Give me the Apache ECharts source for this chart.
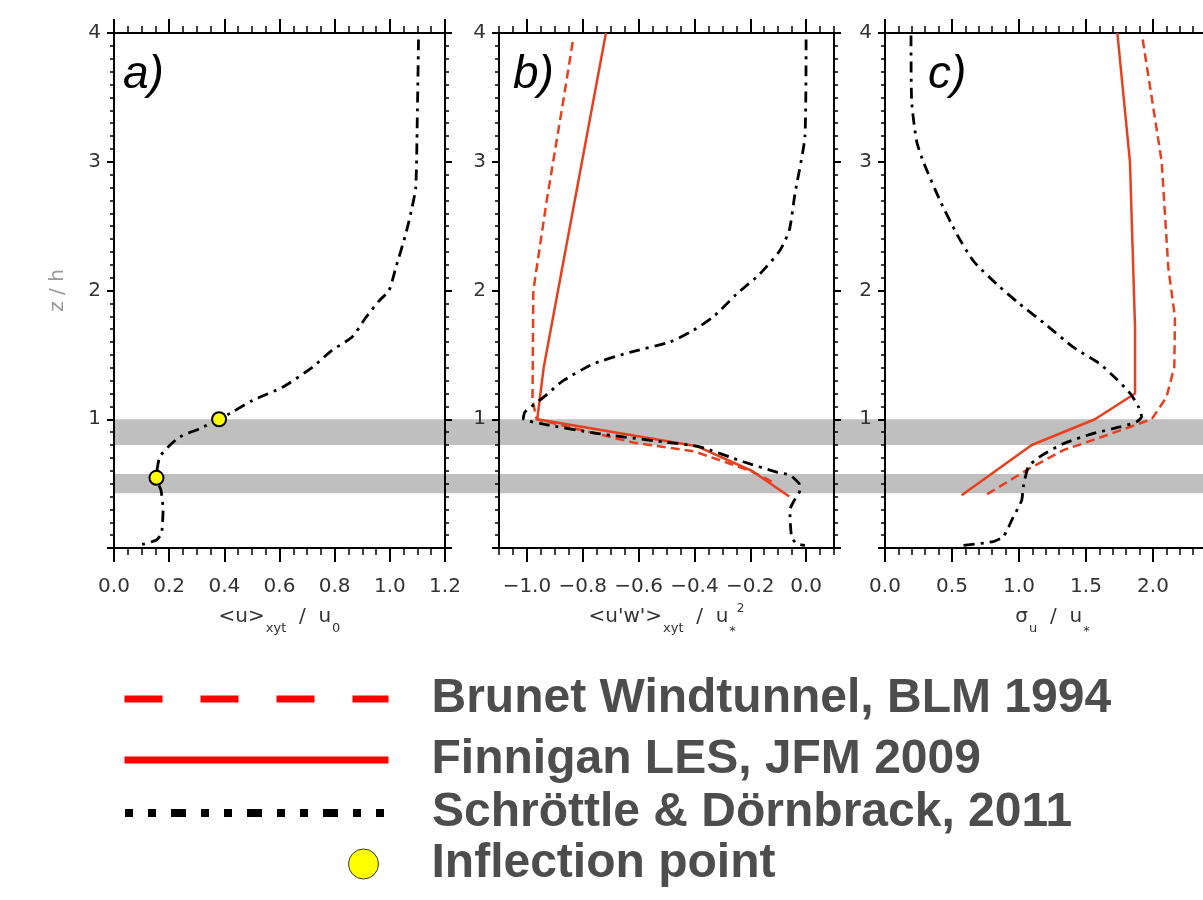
<!DOCTYPE html>
<html>
<head>
<meta charset="utf-8">
<script src="https://cdn.jsdelivr.net/npm/echarts@6.0.0/dist/echarts.min.js"></script>
<style>
  html, body { margin: 0; padding: 0; background: #fff; }
  #chart { width: 1203px; height: 900px; }
</style>
</head>
<body>
<div id="chart"></div>
<script>
  // profiles, points are [x, z/h]
  var aSchrottle = [[1.104, 3.95], [1.100, 3.40], [1.094, 2.80], [1.080, 2.64], [1.058, 2.44], [1.022, 2.18],
    [0.997, 2.00], [0.961, 1.92], [0.913, 1.79], [0.864, 1.64], [0.790, 1.535], [0.720, 1.405], [0.612, 1.25],
    [0.503, 1.147], [0.430, 1.057], [0.381, 1.00], [0.311, 0.928], [0.239, 0.863], [0.196, 0.785], [0.166, 0.708],
    [0.157, 0.62], [0.154, 0.545], [0.170, 0.45], [0.178, 0.30], [0.176, 0.20], [0.172, 0.114], [0.154, 0.062],
    [0.094, 0.023]];
  var aInflection = [[0.381, 1.0], [0.154, 0.545]];

  var bFinnigan = [[-0.717, 4.0], [-0.94, 1.40], [-0.963, 1.0], [-0.39, 0.79], [-0.195, 0.60], [-0.06, 0.40]];
  var bBrunet = [[-0.836, 3.93], [-0.87, 3.47], [-0.929, 2.70], [-0.977, 2.0], [-0.98, 1.15], [-0.965, 1.0],
    [-0.62, 0.82], [-0.40, 0.75], [-0.28, 0.66], [-0.19, 0.59], [-0.118, 0.51]];
  var bSchrottle = [[0.0, 3.95], [-0.004, 3.2], [-0.04, 2.75], [-0.06, 2.47], [-0.094, 2.31], [-0.165, 2.13],
    [-0.25, 1.97], [-0.33, 1.80], [-0.404, 1.69], [-0.488, 1.60], [-0.631, 1.52], [-0.762, 1.43], [-0.870, 1.30],
    [-0.941, 1.17], [-1.007, 1.057], [-1.013, 1.005], [-0.953, 0.967], [-0.75, 0.89], [-0.511, 0.824],
    [-0.38, 0.785], [-0.225, 0.67], [-0.105, 0.59], [-0.058, 0.566], [-0.025, 0.50], [-0.022, 0.45],
    [-0.045, 0.36], [-0.058, 0.295], [-0.052, 0.088], [-0.035, 0.035], [-0.004, 0.02]];

  var cFinnigan = [[1.734, 4.0], [1.828, 3.0], [1.866, 1.71], [1.866, 1.2], [1.567, 1.0], [1.095, 0.8], [0.572, 0.41]];
  var cBrunet = [[1.923, 3.95], [2.065, 3.0], [2.114, 2.18], [2.164, 1.79], [2.159, 1.405], [2.10, 1.17],
    [1.99, 1.0], [1.654, 0.876], [1.331, 0.76], [1.082, 0.62], [0.734, 0.40]];
  var cSchrottle = [[0.194, 3.98], [0.199, 3.47], [0.236, 3.16], [0.286, 3.0], [0.41, 2.70], [0.535, 2.44],
    [0.659, 2.23], [0.833, 2.05], [1.0, 1.90], [1.207, 1.73], [1.405, 1.56], [1.604, 1.43], [1.729, 1.31],
    [1.83, 1.20], [1.89, 1.10], [1.915, 1.02], [1.878, 0.98], [1.754, 0.94], [1.555, 0.89], [1.331, 0.81],
    [1.157, 0.71], [1.07, 0.63], [1.032, 0.475], [1.02, 0.37], [0.957, 0.24], [0.883, 0.088], [0.808, 0.05],
    [0.585, 0.02]];

  // grey canopy layers (z/h)
  var bandRanges = [[0.8, 1.0], [0.425, 0.575]];

  // tick labels of the middle panel
  var bTicks = [-1.0, -0.8, -0.6, -0.4, -0.2, 0.0];

  var names = ['Brunet Windtunnel, BLM 1994', 'Finnigan LES, JFM 2009', 'Schröttle & Dörnbrack, 2011', 'Inflection point'];
  var panelLabels = ['a)', 'b)', 'c)'];

  var red = '#e8401e';
  var labelFont = 'DejaVu Sans';

  var richName = {
    sub: { fontSize: 13, fontFamily: labelFont, color: '#333', padding: [24, 0, 0, 1] },
    sup: { fontSize: 12, fontFamily: labelFont, color: '#333', padding: [0, 0, 16, 1] },
    star: { fontSize: 13, fontFamily: labelFont, color: '#333', padding: [30, 0, 0, 1] }
  };

  function fmt1(v) {
    if (Math.abs(v) < 1e-9) return '0.0';
    return (v < 0 ? '\u2212' : '') + Math.abs(v).toFixed(1);
  }

  function xAx(grid, pos, min, max, interval, minor, labels, name) {
    return {
      type: 'value', gridIndex: grid, position: pos, min: min, max: max, interval: interval,
      axisLine: { onZero: false, lineStyle: { color: '#000', width: 2 } },
      axisTick: { length: 14, lineStyle: { color: '#000', width: 2 } },
      minorTick: { show: minor > 0, splitNumber: minor || 5, length: 7, lineStyle: { color: '#000', width: 1.5 } },
      splitLine: { show: false },
      axisLabel: { show: labels, margin: 29, fontSize: 20, color: '#333', fontFamily: labelFont, formatter: fmt1 },
      name: name || '', nameLocation: 'middle', nameGap: 58,
      nameTextStyle: { fontSize: 20, color: '#333', fontFamily: labelFont, lineHeight: 22, rich: richName }
    };
  }

  function yAx(grid, pos, labels, name) {
    return {
      type: 'value', gridIndex: grid, position: pos, min: 0, max: 4, interval: 1,
      axisLine: { onZero: false, lineStyle: { color: '#000', width: 2 } },
      axisTick: { length: 7, lineStyle: { color: '#000', width: 2 } },
      minorTick: { show: true, splitNumber: 10, length: 4, lineStyle: { color: '#000', width: 1.5 } },
      splitLine: { show: false },
      axisLabel: { show: labels, showMinLabel: false, margin: 13, fontSize: 20, color: '#333', fontFamily: labelFont },
      name: name || '', nameLocation: 'middle', nameGap: 46,
      nameTextStyle: { fontSize: 20, color: '#999', fontFamily: labelFont }
    };
  }

  // middle panel: majors at custom values, minors from an overlaid axis
  function bMajor(pos, labels, name) {
    var ax = xAx(1, pos, -1.1, 0.1, 0.05, 0, labels, name);
    ax.axisTick.customValues = bTicks;
    ax.axisLabel.customValues = bTicks;
    return ax;
  }
  function bMinor(pos) {
    var ax = xAx(1, pos, -1.1, 0.1, 0.05, 0, false);
    ax.axisLine = { show: false, onZero: false };
    ax.axisTick = { length: 7, lineStyle: { color: '#000', width: 1.5 } };
    return ax;
  }

  var xAxes = [
    xAx(0, 'bottom', 0, 1.2, 0.2, 4, true, '<u>{sub|xyt}  /  u{sub|0}'),
    xAx(0, 'top', 0, 1.2, 0.2, 4, false),
    bMajor('bottom', true, "<u'w'>{sub|xyt}  /  u{star|*}{sup|2}"),
    bMinor('bottom'),
    bMajor('top', false),
    bMinor('top'),
    xAx(2, 'bottom', 0, 2.5, 0.5, 5, true, 'σ{sub|u}  /  u{star|*}'),
    xAx(2, 'top', 0, 2.5, 0.5, 5, false),
    { type: 'value', gridIndex: 3, min: 0, max: 1, show: false }
  ];

  var yAxes = [
    yAx(0, 'left', true, 'z / h'), yAx(0, 'right', false),
    yAx(1, 'left', true), yAx(1, 'right', false),
    yAx(2, 'left', true), yAx(2, 'right', false),
    { type: 'value', gridIndex: 3, min: 0, max: 4, show: false }
  ];

  function lineSeries(name, data, xi, yi, kind) {
    var s = { name: name, type: 'line', data: data, xAxisIndex: xi, yAxisIndex: yi,
      symbol: 'none', silent: true, z: 3 };
    if (kind == 'dash') s.lineStyle = { color: red, width: 2.5, type: [9, 5] };
    else if (kind == 'solid') s.lineStyle = { color: red, width: 2.5 };
    else { s.lineStyle = { color: '#000', width: 2.8, type: [11, 6, 3, 6] }; s.smooth = 0.2; }
    s.itemStyle = { color: s.lineStyle.color };
    return s;
  }

  var series = [
    {
      type: 'line', xAxisIndex: 8, yAxisIndex: 6, data: [], silent: true,
      markArea: {
        silent: true, z: -1, itemStyle: { color: '#bfbfbf' },
        data: bandRanges.map(function (r) { return [{ yAxis: r[0] }, { yAxis: r[1] }]; })
      }
    },
    lineSeries(names[2], aSchrottle, 0, 0, 'dashdot'),
    {
      name: names[3], type: 'scatter', data: aInflection, xAxisIndex: 0, yAxisIndex: 0, z: 5,
      symbolSize: 14, itemStyle: { color: '#ffff00', borderColor: '#000', borderWidth: 2, opacity: 1 }
    },
    lineSeries(names[0], bBrunet, 2, 2, 'dash'),
    lineSeries(names[1], bFinnigan, 2, 2, 'solid'),
    lineSeries(names[2], bSchrottle, 2, 2, 'dashdot'),
    lineSeries(names[0], cBrunet, 6, 4, 'dash'),
    lineSeries(names[1], cFinnigan, 6, 4, 'solid'),
    lineSeries(names[2], cSchrottle, 6, 4, 'dashdot')
  ];

  var legendText = { fontSize: 48, fontWeight: 'bold', fontFamily: 'Liberation Sans', color: '#4d4d4d',
    lineHeight: 50, padding: [0, 0, 0, 38] };
  function lineLegend(top, name, lineStyle) {
    return {
      left: 121, top: top, padding: 0, selectedMode: false, itemWidth: 264, itemHeight: 8,
      textStyle: legendText,
      data: [{ name: name, lineStyle: lineStyle, itemStyle: { opacity: 0 } }]
    };
  }

  var option = {
    animation: false,
    grid: [
      { left: 114, top: 33, width: 331, height: 515 },
      { left: 499, top: 33, width: 335, height: 515 },
      { left: 885, top: 33, width: 335, height: 515 },
      { left: 114, top: 33, right: 0, height: 515 }
    ].map(function (g) { g.outerBoundsMode = 'none'; g.containLabel = false; return g; }),
    title: [
      { text: panelLabels[0], left: 123, top: 52 },
      { text: panelLabels[1], left: 513, top: 52 },
      { text: panelLabels[2], left: 928, top: 52 }
    ].map(function (t) {
      t.padding = 0;
      t.textStyle = { fontSize: 46, fontStyle: 'italic', fontWeight: 'normal', color: '#000', fontFamily: 'Liberation Sans' };
      return t;
    }),
    legend: [
      lineLegend(674, names[0], { color: '#ff0000', width: 7, type: [38, 38] }),
      lineLegend(735, names[1], { color: '#ff0000', width: 7, type: 'solid' }),
      lineLegend(788, names[2], { color: '#000', width: 8, type: [8, 15, 8, 15, 15, 15] }),
      {
        left: 348, top: 839, padding: 0, selectedMode: false, itemWidth: 30, itemHeight: 30, icon: 'circle',
        textStyle: Object.assign({}, legendText, { padding: [0, 0, 0, 48] }),
        data: [{ name: names[3], itemStyle: { color: '#ffff00', borderColor: '#333', borderWidth: 1 } }]
      }
    ],
    xAxis: xAxes,
    yAxis: yAxes,
    series: series
  };

  var chart = echarts.init(document.getElementById('chart'));
  chart.setOption(option);
</script>
</body>
</html>
